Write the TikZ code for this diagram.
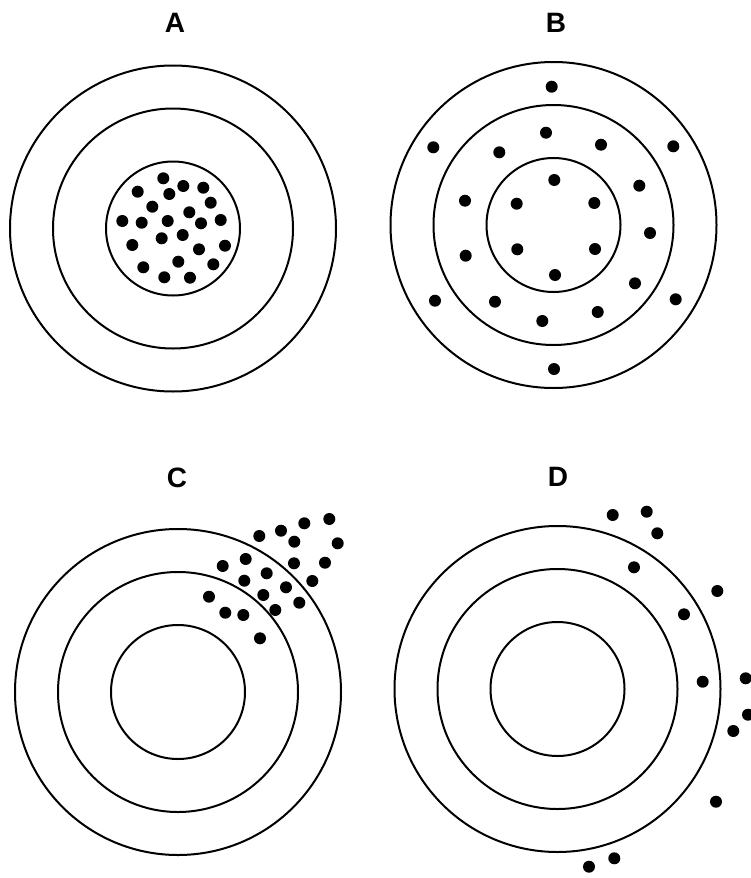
\documentclass[tikz,border=0pt]{standalone}
\usepackage{fontspec}
\setsansfont{Liberation Sans}
\tikzset{
  ring/.style={draw,line width=2pt},
  hit/.style={fill=black},
  tag/.style={font=\sffamily\bfseries\fontsize{28}{28}\selectfont,inner sep=0pt}
}

\begin{document}
\begin{tikzpicture}[x=1pt,y=-1pt]
\useasboundingbox (0,0) rectangle (751,878);
\coordinate (ctrA) at (173,228.5);
\coordinate (ctrB) at (553.5,225);
\coordinate (ctrC) at (178,692);
\coordinate (ctrD) at (557.5,689);
\foreach \t in {ctrA,ctrB,ctrC,ctrD}{
  \foreach \r in {67,120,163} \draw[ring] (\t) circle[radius=\r pt];
}
\node[tag] (labA) at (175,23) {A};
\node[tag] (labB) at (556,23) {B};
\node[tag] (labC) at (177,478) {C};
\node[tag] (labD) at (558,477) {D};
% A: all shots in the bull
\foreach \x/\y in {163.3/178.3,137.7/191.7,169.3/194,183.3/186,203.3/187.7,210.7/202.7,
  152.3/206.7,189.3/212.3,122.3/221,141.7/222.7,167.7/221,201/223.3,220.7/220,
  132.3/245,161.7/238.3,182.7/235,199/249.3,225/245.7,143.3/267.3,178.3/261.7,
  213.3/264.3,164.3/277.3,190/277.7}
  \fill[hit] (\x,\y) circle[radius=6pt];
% B: spread over all rings
\foreach \x/\y in {551.7/86.7,546/132.7,433.3/147.3,499.3/152.3,601/144.7,673.3/146.3,
  554.3/180,639.3/185.7,465/200.7,516.7/203.7,594.3/203,650/233,465.7/255.7,
  517.3/249.3,595/249,555/275,635/283.3,435/300.7,495/301.7,675.7/299.3,597.7/312,
  542.3/321,554/369}
  \fill[hit] (\x,\y) circle[radius=6pt];
% C: tight group off to one side
\foreach \x/\y in {329.3/519,304.3/523.3,281/530.7,259.3/536,294.3/541.7,337.7/543.3,
  245.7/559,222.7/566,294/563.3,325/562.7,266.7/573.3,244.3/580.7,312.3/581,
  286/587.3,209/596.7,263.3/595,299.3/602.7,275.3/610,225.3/612.7,243.3/615,260/638.3}
  \fill[hit] (\x,\y) circle[radius=6pt];
% D: scattered and off target
\foreach \x/\y in {612.7/515,646.7/511.7,657.3/533.3,634/567.3,717.3/591,684/614.3,
  702.7/681.7,745.7/678.3,748/714.7,733.3/731,716/801.7,614.3/858.3,589/866.7}
  \fill[hit] (\x,\y) circle[radius=6pt];
\end{tikzpicture}
\end{document}
